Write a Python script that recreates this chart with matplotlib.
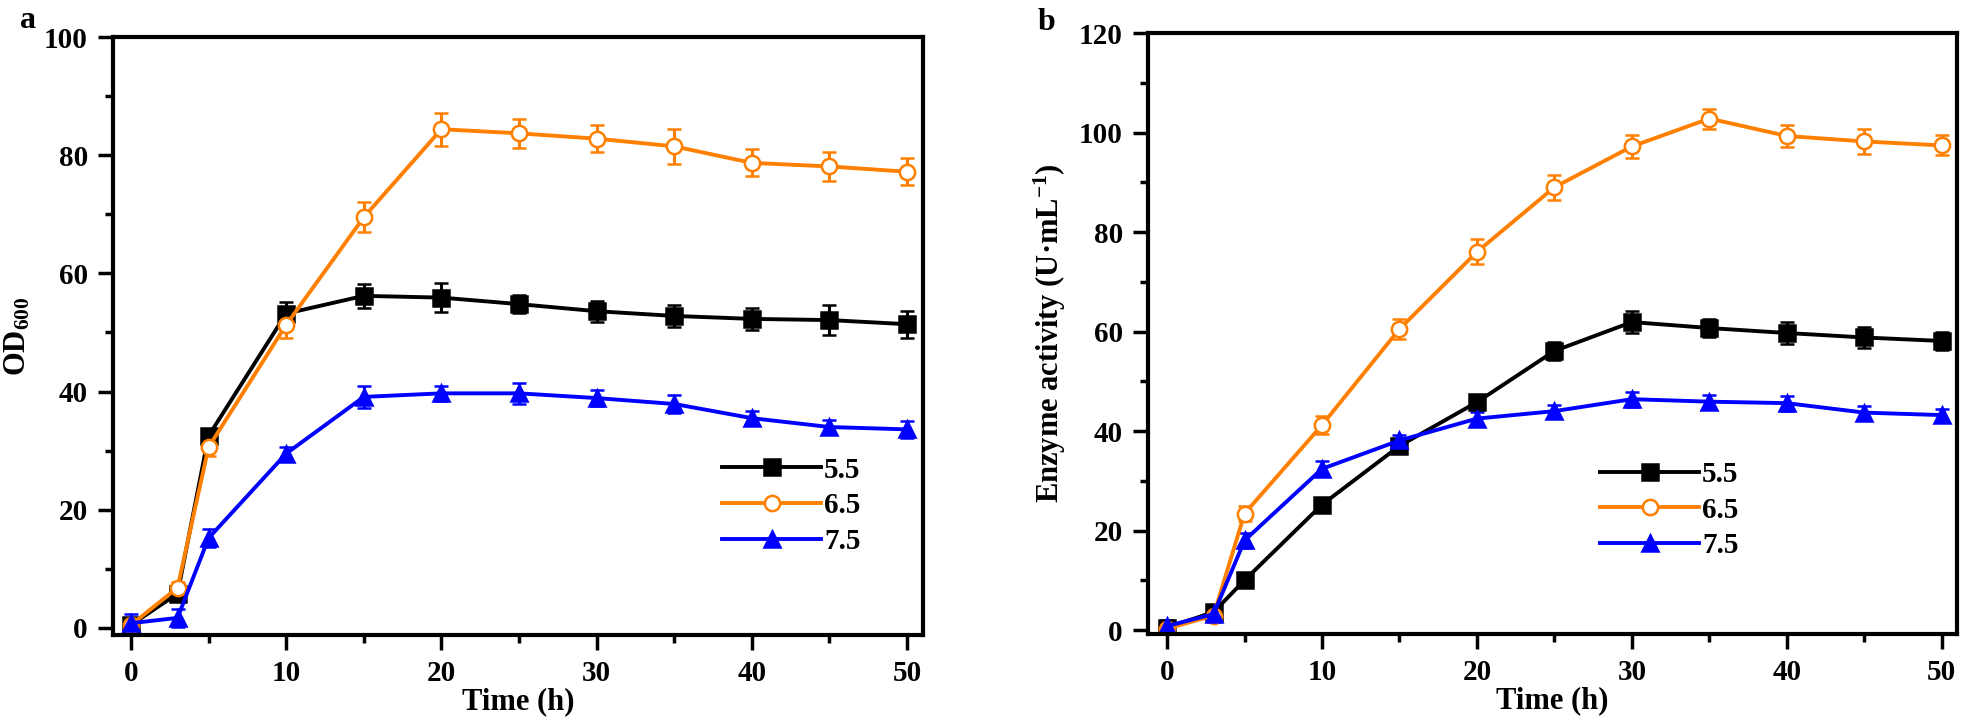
import matplotlib
matplotlib.use("Agg")
import matplotlib.pyplot as plt

plt.rcParams['font.family'] = ['Liberation Serif', 'DejaVu Serif']
plt.rcParams['font.weight'] = 'bold'
plt.rcParams['mathtext.fontset'] = 'custom'
plt.rcParams['mathtext.rm'] = 'Liberation Serif:bold'
plt.rcParams['mathtext.bf'] = 'Liberation Serif:bold'
plt.rcParams['mathtext.it'] = 'Liberation Serif:bold:italic'
plt.rcParams['mathtext.default'] = 'rm'

time = [0, 3, 5, 10, 15, 20, 25, 30, 35, 40, 45, 50]
ph_labels = ['5.5', '6.5', '7.5']

# panel a: OD600
od_55 = [0.5, 5.8, 32.5, 53.2, 56.2, 55.9, 54.8, 53.6, 52.8, 52.3, 52.1, 51.4]
od_55_err = [0.5, 1.0, 1.0, 2.0, 2.0, 2.5, 1.5, 1.8, 1.8, 1.8, 2.5, 2.3]
od_65 = [0.5, 6.8, 30.6, 51.3, 69.5, 84.4, 83.7, 82.8, 81.5, 78.7, 78.1, 77.2]
od_65_err = [1.0, 1.0, 1.5, 2.3, 2.5, 2.8, 2.5, 2.3, 3.0, 2.3, 2.5, 2.3]
od_75 = [0.8, 1.7, 15.2, 29.5, 39.1, 39.7, 39.7, 38.9, 37.9, 35.5, 34.0, 33.6]
od_75_err = [1.5, 1.5, 1.5, 1.2, 1.8, 1.3, 1.8, 1.4, 1.6, 1.2, 1.2, 1.5]

# panel b: enzyme activity
ea_55 = [0.5, 3.6, 10.0, 25.2, 37.0, 45.8, 56.1, 61.9, 60.7, 59.7, 58.8, 58.1]
ea_55_err = [1.0, 1.0, 1.0, 1.0, 1.0, 1.3, 1.8, 2.2, 1.8, 2.2, 2.2, 1.8]
ea_65 = [0.3, 2.9, 23.4, 41.2, 60.5, 76.0, 89.0, 97.2, 102.8, 99.3, 98.2, 97.4]
ea_65_err = [1.0, 1.0, 1.5, 1.8, 2.0, 2.5, 2.5, 2.3, 2.0, 2.3, 2.5, 2.0]
ea_75 = [0.8, 3.2, 18.0, 32.4, 38.1, 42.5, 44.0, 46.4, 45.9, 45.6, 43.7, 43.2]
ea_75_err = [1.2, 1.5, 1.5, 1.5, 1.2, 1.3, 1.3, 1.5, 1.3, 1.5, 1.3, 1.3]

colors = ['black', '#FF8000', '#0000FF']
markers = ['s', 'o', '^']
faces = ['black', 'white', '#0000FF']

fig = plt.figure(figsize=(19.61, 7.19), dpi=100)
ax_a = fig.add_axes([0.0576, 0.1168, 0.4131, 0.8317])
ax_b = fig.add_axes([0.5854, 0.1182, 0.4125, 0.8359])


def draw(ax, series, errs, anchor):
    handles = []
    for y, e, c, m, fc, lab in zip(series, errs, colors, markers, faces, ph_labels):
        h = ax.errorbar(time, y, yerr=e, color=c, marker=m, markerfacecolor=fc,
                        markeredgecolor=c, markeredgewidth=1.8, markersize=11,
                        linewidth=2.8, elinewidth=2.2, capsize=5, capthick=2.2,
                        label=lab)
        handles.append(h[0])
    for s in ax.spines.values():
        s.set_linewidth(3)
    ax.tick_params(axis='both', which='major', direction='out', length=11,
                   width=2.5, labelsize=21, pad=7)
    ax.tick_params(axis='both', which='minor', direction='out', length=6,
                   width=2.5)
    ax.set_xticks([0, 10, 20, 30, 40, 50])
    ax.set_xticks([5, 15, 25, 35, 45], minor=True)
    ax.set_xlabel('Time (h)', fontsize=22, fontweight='bold', labelpad=0)
    ax.legend(handles, ph_labels, loc='center left', bbox_to_anchor=anchor,
              frameon=False, fontsize=21, handlelength=3.4, handletextpad=0.1,
              labelspacing=0.3, borderpad=0, borderaxespad=0)


draw(ax_a, [od_55, od_65, od_75], [od_55_err, od_65_err, od_75_err],
     (0.752, 0.216))
ax_a.set_xlim(-1.16, 51.03)
ax_a.set_ylim(-1.2, 100)
ax_a.set_yticks([0, 20, 40, 60, 80, 100])
ax_a.set_yticks([10, 30, 50, 70, 90], minor=True)
ax_a.set_ylabel('OD$_{600}$', fontsize=22, fontweight='bold', labelpad=8)

draw(ax_b, [ea_55, ea_65, ea_75], [ea_55_err, ea_65_err, ea_75_err],
     (0.559, 0.206))
ax_b.set_xlim(-1.23, 50.97)
ax_b.set_ylim(-0.8, 120)
ax_b.set_yticks([0, 20, 40, 60, 80, 100, 120])
ax_b.set_yticks([10, 30, 50, 70, 90, 110], minor=True)
ax_b.set_ylabel('Enzyme activity (U·mL$^{-1}$)', fontsize=22, fontweight='bold',
                labelpad=8)

fig.text(28 / 1961, 1 - 28 / 719, 'a', fontsize=23, fontweight='bold',
         ha='center', va='baseline')
fig.text(1047 / 1961, 1 - 30 / 719, 'b', fontsize=23, fontweight='bold',
         ha='center', va='baseline')

fig.savefig('out.png', dpi=100)
